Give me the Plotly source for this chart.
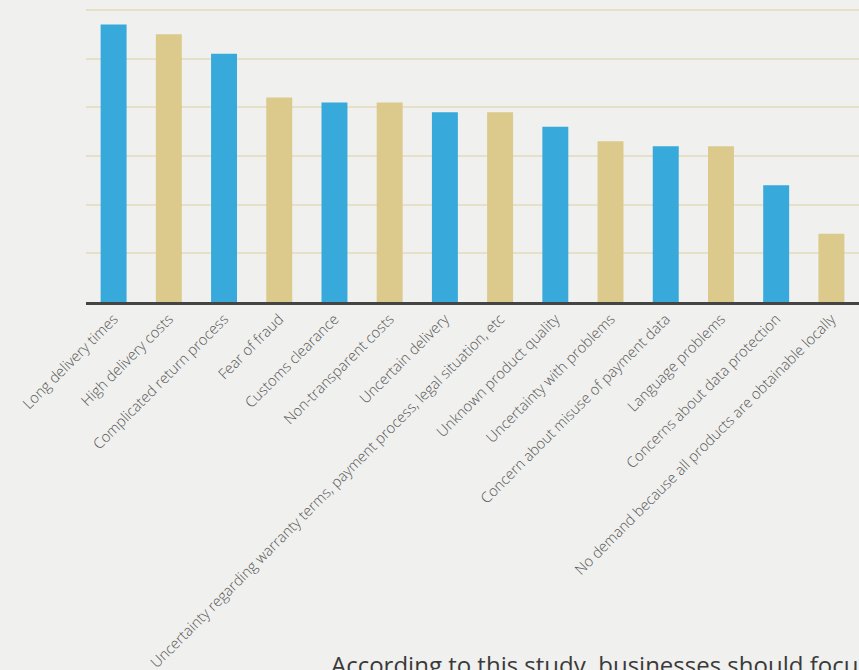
import plotly.graph_objects as go

categories = [
    "Long delivery times",
    "High delivery costs",
    "Complicated return process",
    "Fear of fraud",
    "Customs clearance",
    "Non-transparent costs",
    "Uncertain delivery",
    "Uncertainty regarding warranty terms, payment process, legal situation, etc",
    "Unknown product quality",
    "Uncertainty with problems",
    "Concern about misuse of payment data",
    "Language problems",
    "Concerns about data protection",
    "No demand because all products are obtainable locally",
]
values = [57, 55, 51, 42, 41, 41, 39, 39, 36, 33, 32, 32, 24, 14]
palette = ["#37a9db", "#dbca8c"]
bar_colors = [palette[i % 2] for i in range(len(values))]

caption = "According to this study, businesses should focus on faster delivery and lower costs"

fig = go.Figure(
    go.Bar(
        x=categories,
        y=values,
        marker=dict(color=bar_colors, line=dict(width=0)),
        hoverinfo="x+y",
    )
)

fig.update_layout(
    width=859,
    height=670,
    margin=dict(l=86, r=0, t=8, b=368, autoexpand=False),
    paper_bgcolor="#f0f0ee",
    plot_bgcolor="#f0f0ee",
    bargap=0.53,
    showlegend=False,
    font=dict(family="Open Sans", color="#555555", size=14),
)

fig.update_xaxes(
    tickangle=-45,
    automargin=False,
    showline=True,
    linecolor="#444444",
    linewidth=2.5,
    showgrid=False,
    ticks="",
    tickfont=dict(family="Open Sans", size=14.7, color="#555555", weight=300),
    range=[-0.5, len(categories) - 0.5],
)

fig.update_yaxes(
    range=[0, 60.4],
    dtick=10,
    automargin=False,
    showticklabels=False,
    showgrid=True,
    gridcolor="#e6e0c8",
    gridwidth=1.5,
    zeroline=False,
    showline=False,
    ticks="",
)

fig.add_annotation(
    text=caption,
    xref="paper",
    yref="paper",
    x=0,
    y=0,
    xanchor="left",
    yanchor="top",
    xshift=243,
    yshift=-344,
    showarrow=False,
    align="left",
    font=dict(family="Open Sans", size=24, color="#3a3a3a"),
)

fig.write_html("out.html")
